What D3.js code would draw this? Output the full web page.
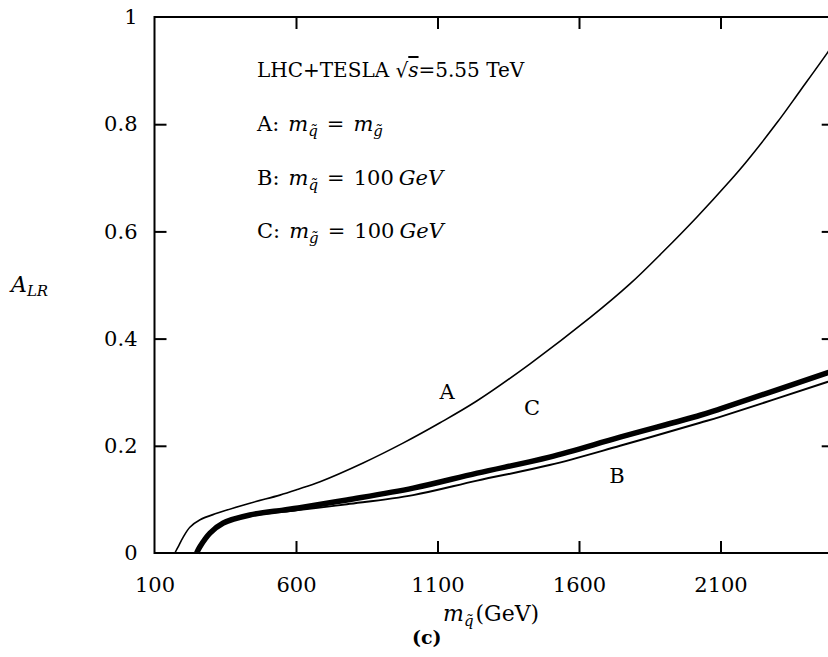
<!DOCTYPE html>
<html>
<head>
<meta charset="utf-8">
<script src="https://cdn.jsdelivr.net/npm/d3@7"></script>
<style>
  html, body { margin: 0; padding: 0; background: #fff; }
  svg { display: block; }
  text { font-family: "DejaVu Serif", "Liberation Serif", serif; fill: #000; }
</style>
</head>
<body>
<svg id="chart" width="828" height="657"></svg>
<script>
// ---- data ----
const xTicks = [100, 600, 1100, 1600, 2100];
const yTicks = [0, 0.2, 0.4, 0.6, 0.8, 1];
const yTickLabels = ["0", "0.2", "0.4", "0.6", "0.8", "1"];

// curve A: m_squark = m_gluino
const curveA_x = [172, 185, 202, 225, 261, 320, 437, 543, 608, 685, 837, 978, 1109, 1240, 1427, 1639, 1780, 1897, 2017, 2133, 2193, 2300, 2381, 2480, 2500];
const curveA_y = [0, 0.013, 0.030, 0.048, 0.062, 0.074, 0.093, 0.108, 0.119, 0.133, 0.168, 0.205, 0.243, 0.284, 0.353, 0.439, 0.502, 0.562, 0.627, 0.694, 0.731, 0.803, 0.862, 0.935, 0.951];
// curve B: m_squark = 100 GeV
const curveB_x = [249, 261, 296, 343, 437, 554, 608, 780, 1014, 1240, 1496, 1745, 2028, 2099, 2477, 2500];
const curveB_y = [0, 0.012, 0.037, 0.055, 0.069, 0.077, 0.080, 0.091, 0.108, 0.135, 0.164, 0.200, 0.243, 0.254, 0.319, 0.323];
// curve C: m_gluino = 100 GeV
const curveC_x = [249, 261, 296, 343, 437, 554, 608, 780, 1014, 1240, 1496, 1745, 2028, 2099, 2477, 2500];
const curveC_y = [0, 0.012, 0.037, 0.056, 0.071, 0.080, 0.084, 0.099, 0.121, 0.149, 0.179, 0.216, 0.257, 0.269, 0.336, 0.340];

const curveLabels = [
  { name: "A", x: 1134, y: 0.30 },
  { name: "C", x: 1434, y: 0.27 },
  { name: "B", x: 1734, y: 0.143 }
];

// ---- layout ----
const svg = d3.select("#chart");
const mLeft = 154.5, mRight = 833.7, mTop = 17, mBottom = 553;
const x = d3.scaleLinear().domain([100, 2500]).range([mLeft, mRight]);
const y = d3.scaleLinear().domain([0, 1]).range([mBottom, mTop]);
const fs = 21, fsSub = 15;
const FONT = "DejaVu Serif, Liberation Serif, serif";

// frame
svg.append("rect").attr("x", mLeft).attr("y", mTop)
  .attr("width", mRight - mLeft).attr("height", mBottom - mTop)
  .attr("fill", "none").attr("stroke", "#000").attr("stroke-width", 2);

// axes (ticks inward, on all four sides)
const tl = 12;
const gB = svg.append("g").attr("transform", `translate(0,${mBottom})`)
  .call(d3.axisBottom(x).tickValues(xTicks).tickSizeInner(-tl).tickSizeOuter(0).tickPadding(24).tickFormat(d3.format("d")));
const gT = svg.append("g").attr("transform", `translate(0,${mTop})`)
  .call(d3.axisTop(x).tickValues(xTicks).tickSizeInner(-tl).tickSizeOuter(0).tickFormat(""));
const gL = svg.append("g").attr("transform", `translate(${mLeft},0)`)
  .call(d3.axisLeft(y).tickValues(yTicks).tickSizeInner(-tl).tickSizeOuter(0).tickPadding(17)
    .tickFormat((d, i) => yTickLabels[i]));
const gR = svg.append("g").attr("transform", `translate(${mRight},0)`)
  .call(d3.axisRight(y).tickValues(yTicks).tickSizeInner(-tl).tickSizeOuter(0).tickFormat(""));
[gB, gT, gL, gR].forEach(g => {
  g.select(".domain").remove();
  g.selectAll(".tick line").attr("stroke", "#000").attr("stroke-width", 2);
  g.selectAll("text").attr("font-size", fs).attr("font-family", FONT).attr("fill", "#000");
});
gB.selectAll(".tick").filter(d => d === 100).select("line").remove();
gT.selectAll(".tick").filter(d => d === 100).select("line").remove();
gL.selectAll(".tick").filter(d => d === 0 || d === 1).select("line").remove();
gR.selectAll(".tick").filter(d => d === 0 || d === 1).select("line").remove();

// curves
const line = d3.line().x(d => x(d[0])).y(d => y(d[1])).curve(d3.curveCatmullRom.alpha(0.5));
svg.append("clipPath").attr("id", "clip").append("rect")
  .attr("x", mLeft).attr("y", mTop).attr("width", mRight - mLeft).attr("height", mBottom - mTop + 3);
const plot = svg.append("g").attr("clip-path", "url(#clip)");
const series = [
  { xs: curveA_x, ys: curveA_y, w: 1.6 },
  { xs: curveB_x, ys: curveB_y, w: 2.0 },
  { xs: curveC_x, ys: curveC_y, w: 5.5 }
];
series.forEach(s => {
  plot.append("path").datum(s.xs.map((v, i) => [v, s.ys[i]]))
    .attr("d", line).attr("fill", "none").attr("stroke", "#000").attr("stroke-width", s.w);
});

// curve labels
curveLabels.forEach(l => {
  svg.append("text").attr("x", x(l.x)).attr("y", y(l.y)).attr("text-anchor", "middle")
    .attr("dominant-baseline", "central").attr("font-size", fs).text(l.name);
});

// legend text
function mathLine(xp, yp, prefix, sub, rhs) {
  const t = svg.append("text").attr("x", xp).attr("y", yp).attr("font-size", fs)
    .attr("xml:space", "preserve");
  t.append("tspan").text(prefix);
  t.append("tspan").attr("dx", 9).attr("font-style", "italic").text("m");
  t.append("tspan").attr("font-style", "italic").attr("font-size", fsSub).attr("dy", 5).text(sub);
  t.append("tspan").attr("dy", -5).attr("dx", 9).text("=");
  rhs.forEach((r, i) => {
    const sp = t.append("tspan").text(r.t);
    if (i === 0) sp.attr("dx", 9);
    if (r.dx) sp.attr("dx", r.dx);
    if (r.i) sp.attr("font-style", "italic");
    if (r.sub) sp.attr("font-size", fsSub).attr("dy", 5);
  });
  return t;
}
const lx = 257;
const t0 = svg.append("text").attr("x", lx).attr("y", 77).attr("font-size", 20);
t0.append("tspan").text("LHC+TESLA ");
t0.append("tspan").text("\u221A");
t0.append("tspan").attr("font-style", "italic").attr("text-decoration", "overline").text("s");
t0.append("tspan").text("=5.55 TeV");

mathLine(lx, 131, "A:", "q\u0303", [{ t: "m", i: true }, { t: "g\u0303", i: true, sub: true }]);
mathLine(lx, 185, "B:", "q\u0303", [{ t: "100" }, { t: "GeV", i: true, dx: 5 }]);
mathLine(lx, 238, "C:", "g\u0303", [{ t: "100" }, { t: "GeV", i: true, dx: 5 }]);

// y-axis title
const ya = svg.append("text").attr("x", 11).attr("y", 292).attr("font-size", 22);
ya.append("tspan").attr("font-style", "italic").text("A");
ya.append("tspan").attr("font-style", "italic").attr("font-size", fsSub).attr("dy", 4).text("LR");

// x-axis title
const xa = svg.append("text").attr("x", 443).attr("y", 621).attr("font-size", 22);
xa.append("tspan").attr("font-style", "italic").text("m");
xa.append("tspan").attr("font-style", "italic").attr("font-size", fsSub).attr("dy", 5).text("q\u0303");
xa.append("tspan").attr("dy", -5).attr("dx", 2).text("(GeV)");

svg.append("text").attr("x", 412).attr("y", 644).attr("font-size", 19).attr("font-weight", "bold").text("(c)");
</script>
</body>
</html>
